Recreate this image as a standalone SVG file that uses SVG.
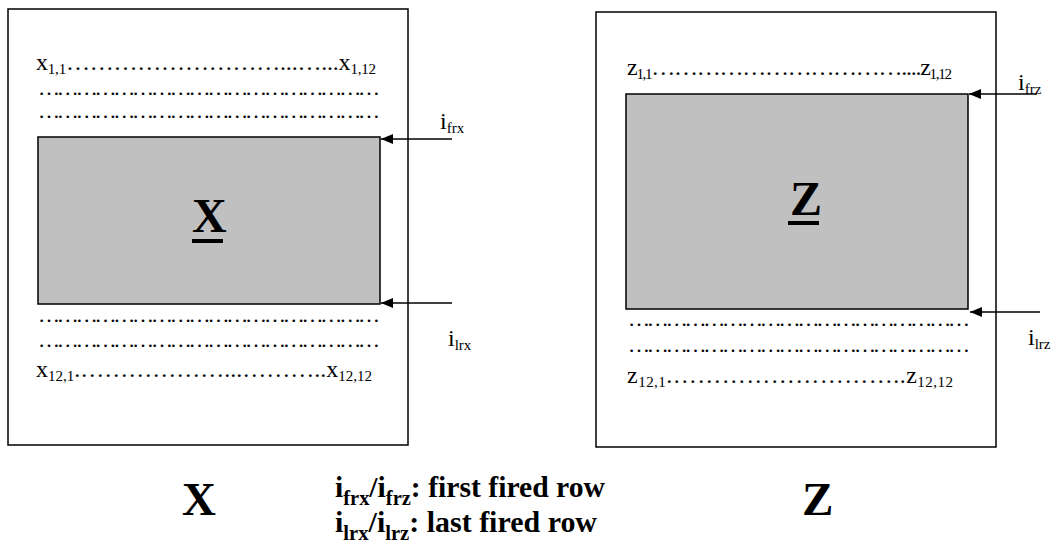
<svg xmlns="http://www.w3.org/2000/svg" width="1057" height="548" viewBox="0 0 1057 548">
<style>
text{font-family:"Liberation Serif","Times New Roman",serif;fill:#000}
.t{font-size:24px}
.d{font-size:22px}
.s{font-size:15px}
.frame{fill:#fff;stroke:#000;stroke-width:1.5}
.shade{fill:#c0c0c0;stroke:#000;stroke-width:1.5}
.conn{stroke:#000;stroke-width:1.5;fill:none}
.big{font-size:48px;font-weight:bold}
.cap{font-size:47px;font-weight:bold}
.leg{font-size:29px;font-weight:bold}
.legs{font-size:20px}
</style>
<defs>
<marker id="ah" viewBox="0 0 12 10" refX="12" refY="5" markerWidth="12" markerHeight="10" markerUnits="userSpaceOnUse" orient="auto">
<path d="M0,0 L12,5 L0,10 z" fill="#000"/>
</marker>
</defs>
<rect width="1057" height="548" fill="#fff"/>
<g id="matrix-x">
<rect class="frame" x="8" y="9" width="400" height="436"/>
<text class="t" x="36" y="70" textLength="340" lengthAdjust="spacing">x<tspan class="s" dy="4">1,1</tspan><tspan dy="-4">………………………...…...x</tspan><tspan class="s" dy="4">1,12</tspan></text>
<text class="d" x="38" y="95" textLength="342" lengthAdjust="spacing">………………………………………………</text>
<text class="d" x="38" y="118" textLength="342" lengthAdjust="spacing">………………………………………………</text>
<rect class="shade" x="38" y="137" width="342" height="167"/>
<text class="big" x="192" y="232">X</text>
<rect x="192" y="239" width="31" height="4" fill="#000"/>
<text class="d" x="38" y="322" textLength="342" lengthAdjust="spacing">………………………………………………</text>
<text class="d" x="38" y="347" textLength="342" lengthAdjust="spacing">………………………………………………</text>
<text class="t" x="36" y="377" textLength="336" lengthAdjust="spacing">x<tspan class="s" dy="4">12,1</tspan><tspan dy="-4">.………………...………..x</tspan><tspan class="s" dy="4">12,12</tspan></text>
</g>
<g id="matrix-z">
<rect class="frame" x="596" y="12" width="400" height="435"/>
<text class="t" x="627" y="75" textLength="325" lengthAdjust="spacing">z<tspan class="s" dy="4">1,1</tspan><tspan dy="-4">……………………………....z</tspan><tspan class="s" dy="4">1,12</tspan></text>
<rect class="shade" x="626" y="94" width="342" height="215"/>
<text class="big" x="790" y="215">Z</text>
<rect x="788" y="221" width="31" height="4" fill="#000"/>
<text class="d" x="628" y="326" textLength="342" lengthAdjust="spacing">………………………………………………</text>
<text class="d" x="628" y="352" textLength="342" lengthAdjust="spacing">………………………………………………</text>
<text class="t" x="627" y="383" textLength="326" lengthAdjust="spacing">z<tspan class="s" dy="4">12,1</tspan><tspan dy="-4">.………………………..z</tspan><tspan class="s" dy="4">12,12</tspan></text>
</g>
<g id="connectors">
<line class="conn" x1="452" y1="139" x2="381" y2="139" marker-end="url(#ah)"/>
<line class="conn" x1="452" y1="303" x2="381" y2="303" marker-end="url(#ah)"/>
<line class="conn" x1="1037" y1="94" x2="969" y2="94" marker-end="url(#ah)"/>
<line class="conn" x1="1040" y1="312" x2="970" y2="312" marker-end="url(#ah)"/>
</g>
<g id="labels">
<text class="t" x="440" y="129">i<tspan class="s" dy="4">frx</tspan></text>
<text class="t" x="448" y="346">i<tspan class="s" dy="4">lrx</tspan></text>
<text class="t" x="1018" y="90">i<tspan class="s" dy="4">frz</tspan></text>
<text class="t" x="1028" y="345">i<tspan class="s" dy="4">lrz</tspan></text>
</g>
<g id="legend">
<text class="cap" x="182" y="515">X</text>
<text class="cap" x="802" y="515">Z</text>
<text class="leg" x="335" y="497" textLength="270" lengthAdjust="spacingAndGlyphs">i<tspan class="legs" dy="8">frx</tspan><tspan dy="-8">/i</tspan><tspan class="legs" dy="8">frz</tspan><tspan dy="-8">: first fired row</tspan></text>
<text class="leg" x="335" y="532" textLength="262" lengthAdjust="spacingAndGlyphs">i<tspan class="legs" dy="8">lrx</tspan><tspan dy="-8">/i</tspan><tspan class="legs" dy="8">lrz</tspan><tspan dy="-8">: last fired row</tspan></text>
</g>
</svg>
